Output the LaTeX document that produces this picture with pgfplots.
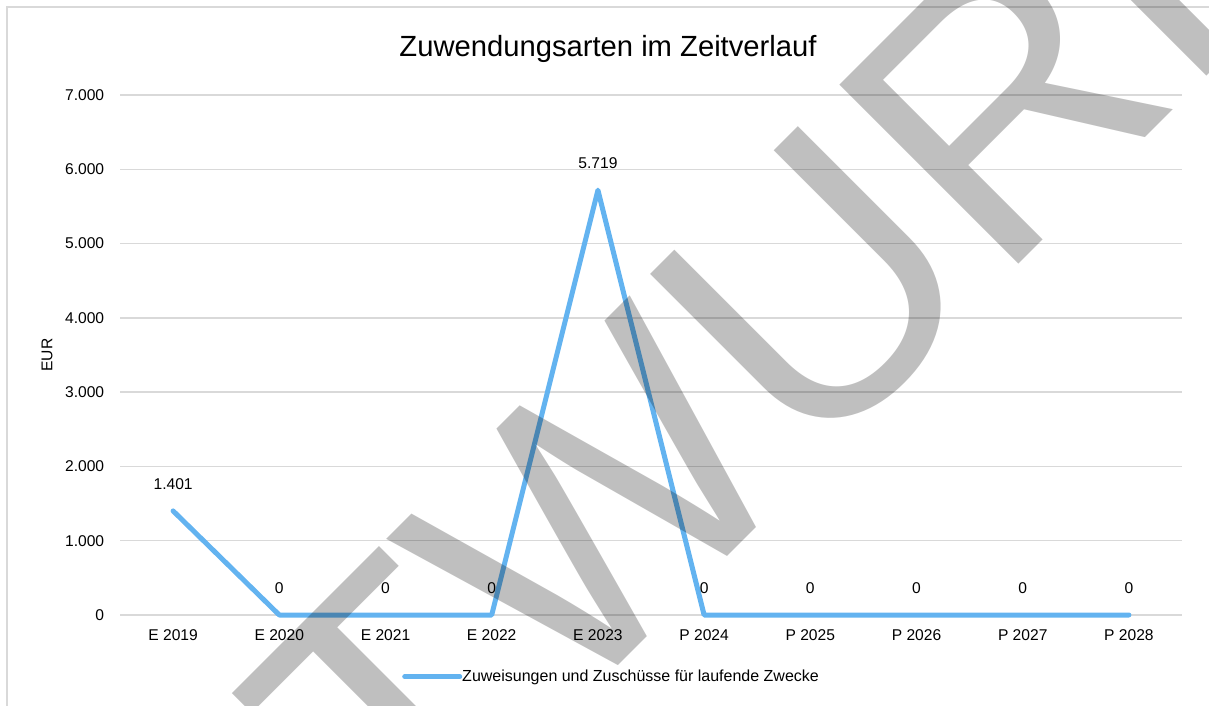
\documentclass[border=0pt]{standalone}
\usepackage{fontspec}
\setmainfont{Liberation Sans}
\usepackage{pgfplots}
\pgfplotsset{compat=1.18}
\definecolor{linieblau}{RGB}{99,179,240}
\definecolor{gitter}{RGB}{217,217,217}
% pixel of the reference -> picture coordinates (plot area lower left = origin)
\newcommand{\px}[2]{({((#1)-120)*0.5pt},{(615-(#2))*0.5pt})}
\newcommand{\klein}{\fontsize{7.8}{9}\selectfont}
\newcommand{\riesig}{\fontsize{184}{184}\selectfont}

\begin{document}
\begin{tikzpicture}
\draw[gitter, line width=0.75pt] \px{7}{720} -- \px{7}{7} -- \px{1220}{7};
\begin{axis}[
  at={(0,0)}, anchor=south west,
  scale only axis, width=531pt, height=260pt,
  xmin=-0.5, xmax=9.5, ymin=0, ymax=7000,
  clip=false,
  xtick={0,...,9},
  xticklabels={E 2019,E 2020,E 2021,E 2022,E 2023,P 2024,P 2025,P 2026,P 2027,P 2028},
  ytick={0,1000,...,7000},
  scaled y ticks=false,
  /pgf/number format/.cd, 1000 sep={.}, assume math mode=true, /pgfplots/.cd,
  ymajorgrids, grid style={gitter, line width=0.75pt},
  axis line style={draw=none},
  major tick length=0pt,
  ticklabel style={font=\klein, text=black},
  yticklabel style={xshift=-4.4pt},
  xticklabel style={yshift=-4pt},
  title={Zuwendungsarten im Zeitverlauf},
  every axis title/.style={at={(0.4595,1.0735)}, anchor=base, font=\fontsize{14.6}{17}\selectfont},
  ylabel={EUR},
  ylabel style={at={(-0.0687,0.5)}, anchor=center, font=\klein},
  legend style={at={(0.4638,-0.119)}, anchor=center, draw=none, fill=none,
    font=\fontsize{8}{9}\selectfont,
    inner sep=0pt, /tikz/every odd column/.append style={column sep=-2pt}},
  legend image code/.code={\draw[#1] (0pt,0pt) -- (27.5pt,0pt);},
  nodes near coords,
  every node near coord/.append style={font=\klein, text=black, anchor=center, yshift=13.5pt},
]
\addplot[linieblau, line width=2.5pt, line join=round, line cap=round, mark=none]
  coordinates {(0,1401)(1,0)(2,0)(3,0)(4,5719)(5,0)(6,0)(7,0)(8,0)(9,0)};
\addlegendentry{Zuweisungen und Zuschüsse für laufende Zwecke}
\end{axis}
% watermark, centre at reference pixel (606,501), turned by 45 degrees
\begin{scope}[shift={(243pt,57pt)}]
  \node[rotate=45, transform shape, text=black, text opacity=0.25, inner sep=0pt, font=\riesig] at (0,0) {ENTWURF};
\end{scope}
\pgfresetboundingbox
\path[use as bounding box] \px{0}{0} rectangle \px{1209}{706};
\end{tikzpicture}
\end{document}
